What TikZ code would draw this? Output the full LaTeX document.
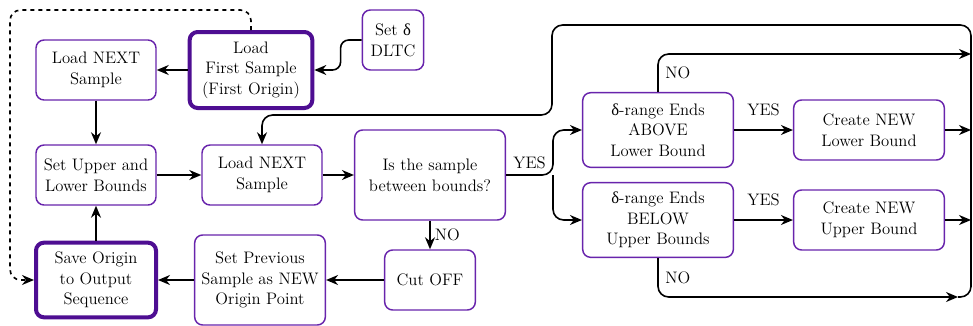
\documentclass[tikz,border=0pt]{standalone}
\usepackage{fontspec}
\newfontfamily\grk{Liberation Serif}
\usepackage{xcolor}
\usetikzlibrary{positioning,arrows.meta}

\definecolor{boxpurple}{RGB}{104,36,172}
\definecolor{keypurple}{RGB}{78,14,146}

\begin{document}
\begin{tikzpicture}[
  x=0.75pt, y=-0.75pt,
  font=\fontsize{12.5}{15.5}\selectfont,
  box/.style={draw=boxpurple, line width=1.1pt, rounded corners=6pt, align=center, inner sep=2pt, fill=white},
  keybox/.style={box, draw=keypurple, line width=3pt},
  arr/.style={-{Stealth[length=9pt, width=7.5pt]}, line width=1.2pt},
  lbl/.style={inner sep=1pt}]

\useasboundingbox (0,0) rectangle (973,325);

% Left column: start and origin handling
\node[box, minimum width=90pt, minimum height=45pt] (nexttop) at (96,70) {Load NEXT\\Sample};
\node[keybox, minimum width=92pt, minimum height=57pt] (first) at (251,70) {Load\\First Sample\\(First Origin)};
\node[box, minimum width=46pt, minimum height=45pt] (dltc) at (393,40) {Set {\grk δ}\\DLTC};
\node[box, minimum width=90pt, minimum height=45pt] (bounds) at (96,175) {Set Upper and\\Lower Bounds};
\node[keybox, minimum width=90pt, minimum height=56pt] (save) at (96,280) {Save Origin\\to Output\\Sequence};

% Middle: sample check
\node[box, minimum width=90pt, minimum height=45pt] (nextmid) at (262,175) {Load NEXT\\Sample};
\node[box, minimum width=113pt, minimum height=67.5pt] (check) at (430,175) {Is the sample\\between bounds?};
\node[box, minimum width=68pt, minimum height=45pt] (cut) at (430,280) {Cut OFF};
\node[box, minimum width=98pt, minimum height=67.5pt] (prev) at (260,280) {Set Previous\\Sample as NEW\\Origin Point};

% Right: delta-range tests
\node[box, minimum width=113pt, minimum height=56pt] (above) at (658,130) {{\grk δ}-range Ends\\ABOVE\\Lower Bound};
\node[box, minimum width=113pt, minimum height=45pt] (newlow) at (869,130) {Create NEW\\Lower Bound};
\node[box, minimum width=113pt, minimum height=56pt] (below) at (658,220) {{\grk δ}-range Ends\\BELOW\\Upper Bounds};
\node[box, minimum width=113pt, minimum height=45pt] (newup) at (869,220) {Create NEW\\Upper Bound};

% Bus on the right and loop back
\coordinate (fork) at (553,175);
\coordinate (busin) at (958,297);
\coordinate (busbot) at (971,297);
\coordinate (bustop) at (971,25);
\coordinate (busno) at (971,54);
\coordinate (loopA) at (552,25);
\coordinate (loopB) at (552,115);
\coordinate (dashcorner) at (10,10);

% Edges
\draw[arr, rounded corners=6pt] (dltc.west) -- ++(-21,0) |- (first.east);
\draw[arr] (first) -- (nexttop);
\draw[arr] (nexttop) -- (bounds);
\draw[arr] (save) -- (bounds);
\draw[arr] (bounds) -- (nextmid);
\draw[arr] (nextmid) -- (check);
\draw[arr, rounded corners=8pt] (check.east) -- node[lbl, above=3pt, pos=0.5] {YES} (fork) |- (above.west);
\draw[arr, rounded corners=8pt] (fork) |- (below.west);
\draw[arr] (check) -- node[lbl, right=2pt] {NO} (cut);
\draw[arr] (cut) -- (prev);
\draw[arr] (prev) -- (save);
\draw[arr] (above) -- node[lbl, above=9pt] {YES} (newlow);
\draw[arr] (below) -- node[lbl, above=9pt] {YES} (newup);
\draw[arr] (newlow.east) -- (newlow.east -| bustop);
\draw[arr] (newup.east) -- (newup.east -| bustop);
\draw[arr, rounded corners=8pt] (above.north) |- node[lbl, pos=0.25, right=4pt] {NO} (busno);
\draw[arr, rounded corners=8pt] (below.south) |- node[lbl, pos=0.25, right=4pt] {NO} (busin);
\draw[arr, rounded corners=8pt] (busin) -- (busbot) -- (bustop) -- (loopA) -- (loopB) -- (nextmid.north |- loopB) -- (nextmid.north);

% Dashed restart path
\draw[arr, dashed, rounded corners=8pt] (first.north) |- (dashcorner) |- (save.west);
\end{tikzpicture}
\end{document}
